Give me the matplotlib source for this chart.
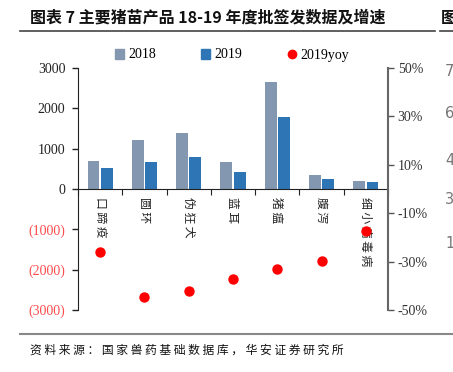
import matplotlib
matplotlib.use("Agg")
import matplotlib.pyplot as plt
from matplotlib.lines import Line2D
from matplotlib.patches import Patch
import numpy as np

categories = ["口蹄疫", "圆环", "伪狂犬", "蓝耳", "猪瘟", "腹泻", "细小病毒病"]
v2018 = [704, 1219, 1386, 680, 2654, 348, 199]
v2019 = [522, 672, 796, 423, 1783, 241, 166]
yoy = [-25.9, -44.6, -42.3, -37.2, -33.0, -29.8, -17.2]
left_ticks = [-3000, -2000, -1000, 0, 1000, 2000, 3000]
right_ticks = [-50, -30, -10, 10, 30, 50]

CJK = ["Noto Sans CJK SC", "DejaVu Sans"]
SERIF = ["Liberation Serif", "Noto Sans CJK SC"]

def spaced(s):
    return " ".join(list(s))

fig = plt.figure(figsize=(4.53, 3.72), dpi=100)
W, H = 453, 372
def fx(px): return px / W
def fy(py): return 1 - py / H

ax = fig.add_axes([fx(78), fy(310), fx(388) - fx(78), fy(68) - fy(310)])
ax2 = ax.twinx()

x = np.arange(len(categories))
bw = 0.27
c18 = "#8497B0"
c19 = "#2E75B6"
ax.bar(x - 0.15, v2018, width=bw, color=c18, align="center")
ax.bar(x + 0.15, v2019, width=bw, color=c19, align="center")
ax.set_xlim(-0.5, len(categories) - 0.5)
ax.set_ylim(-3000, 3000)
ax.set_yticks(left_ticks)
def fmt(v):
    v = int(v)
    return f"({abs(v)})" if v < 0 else f"{v}"
ax.set_yticklabels([fmt(v) for v in left_ticks], family=SERIF, fontsize=10)
for lab, v in zip(ax.get_yticklabels(), left_ticks):
    lab.set_color("#FF4B4B" if v < 0 else "#222222")
ax.tick_params(axis="y", direction="out", length=4, width=1, color="#222222", pad=5)

ax.spines["top"].set_visible(False)
ax.spines["right"].set_visible(False)
ax.spines["left"].set_color("#222222")
ax.spines["bottom"].set_position(("data", 0))
ax.spines["bottom"].set_color("#222222")
ax.set_xticks(np.arange(len(categories) + 1) - 0.5)
ax.set_xticklabels([])
ax.tick_params(axis="x", direction="out", length=4, color="#222222")
ax.xaxis.set_ticks_position("bottom")
for i, c in enumerate(categories):
    ax.text(i, -210, spaced(c), rotation=-90, ha="center", va="top", family=CJK,
            fontsize=8.5, color="#222222")

ax2.scatter(x, yoy, s=42, color="#FF0000", zorder=5, clip_on=False)
ax2.set_ylim(-50, 50)
ax2.set_yticks(right_ticks)
ax2.set_yticklabels([f"{v}%" for v in right_ticks], family=SERIF, fontsize=10, color="#333333")
ax2.tick_params(axis="y", direction="out", length=4, width=1, color="#555555", pad=3)
for s in ["top", "left", "bottom"]:
    ax2.spines[s].set_visible(False)
ax2.spines["right"].set_color("#666666")
ax2.spines["right"].set_linewidth(1.5)

# legend
handles = [Patch(color=c18, label="2018"), Patch(color=c19, label="2019"),
           Line2D([], [], marker="o", color="#FF0000", linestyle="none", markersize=6, label="2019yoy")]
leg = fig.legend(handles=handles, loc="center", bbox_to_anchor=(fx(232), fy(55)), ncol=3,
                 frameon=False, prop={"family": SERIF, "size": 10}, handlelength=0.7,
                 handleheight=0.7, handletextpad=0.3, columnspacing=3.2)

# title and lines
fig.text(fx(30), fy(18), "图表 7 主要猪苗产品 18-19 年度批签发数据及增速", family=CJK,
         fontsize=11.5, fontweight="bold", va="center", ha="left", color="#111111")
fig.text(fx(441), fy(18), "图", family=CJK, fontsize=11.5, fontweight="bold", va="center", ha="left", color="#111111")
fig.add_artist(Line2D([fx(20), fx(435)], [fy(31), fy(31)], color="#444444", lw=1.2))
fig.add_artist(Line2D([fx(440), fx(453)], [fy(31), fy(31)], color="#444444", lw=1.2))
fig.add_artist(Line2D([fx(20), fx(453)], [fy(334), fy(334)], color="#888888", lw=1.5))
fig.text(fx(30), fy(350), spaced("资料来源：国家兽药基础数据库，华安证券研究所"), family=CJK,
         fontsize=8.5, va="center", ha="left", color="#111111")

for t, yy in zip(["7", "6", "4", "3", "1"], [72, 113, 160, 200, 243]):
    fig.text(fx(445), fy(yy), t, family=["DejaVu Sans"], fontsize=10.5, color="#777777", va="center", ha="left")

fig.savefig("out.png", dpi=100, facecolor="white")
